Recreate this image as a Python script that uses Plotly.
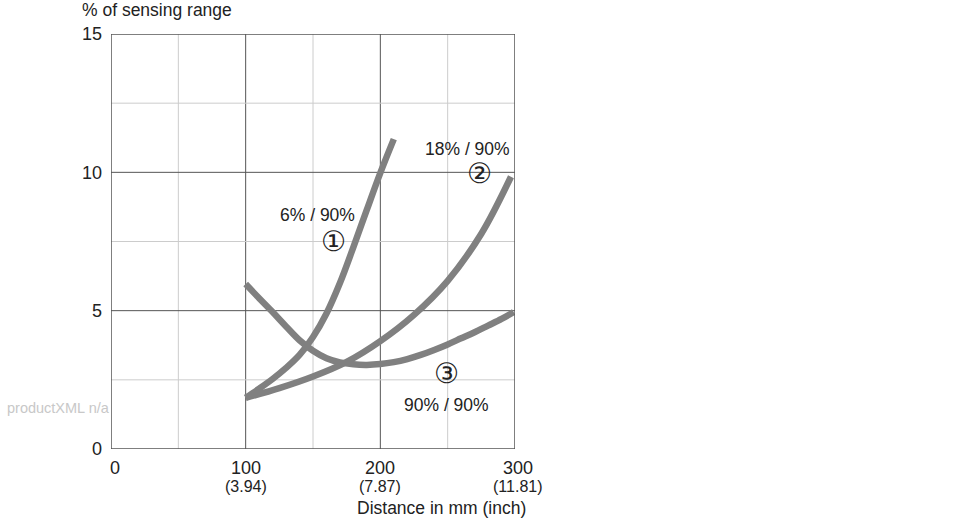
import plotly.graph_objects as go

# Curve data (distance mm, % of sensing range)
c1_x = [100, 110, 120, 130, 140, 150, 160, 170, 180, 190, 200, 210]
c1_y = [1.85, 2.18, 2.53, 2.93, 3.4, 4.05, 4.9, 6.0, 7.3, 8.65, 9.98, 11.2]
c2_x = [100, 125, 150, 175, 200, 225, 250, 275, 297]
c2_y = [1.85, 2.2, 2.62, 3.15, 3.9, 4.85, 6.08, 7.78, 9.84]
c3_x = [100, 110, 120, 130, 140, 150, 160, 170, 180, 190, 200, 210, 220, 230, 240, 250,
        260, 270, 280, 290, 299]
c3_y = [5.96, 5.45, 4.95, 4.43, 3.93, 3.55, 3.28, 3.13, 3.06, 3.04, 3.07, 3.14, 3.25,
        3.4, 3.58, 3.78, 4.0, 4.22, 4.46, 4.7, 4.95]

x_tickvals = [0, 100, 200, 300]
x_ticktext = ["0", "100", "200", "300"]
x_subtext = ["", "(3.94)", "(7.87)", "(11.81)"]
y_tickvals = [0, 5, 10, 15]
y_ticktext = ["0", "5", "10", "15"]

labels = [
    (153.0, 8.46, "6% / 90%"),
    (165.0, 7.49, "①"),
    (264.5, 10.83, "18% / 90%"),
    (274.0, 9.96, "②"),
    (249.2, 2.74, "③"),
    (249.5, 1.59, "90% / 90%"),
]

LINE = "#808080"
FONT = "Liberation Sans, Arial, sans-serif"
CIRC = "DejaVu Sans, Noto Sans CJK JP, sans-serif"
TXT = "#222222"

W, H = 970, 520
L, R, T, B = 111, 455, 34, 71
pw, ph = W - L - R, H - T - B


def py2paper(py):
    return (H - B - py) / ph


def px2paper(px):
    return (px - L) / pw


fig = go.Figure()
for xs, ys in [(c3_x, c3_y), (c2_x, c2_y), (c1_x, c1_y)]:
    fig.add_trace(go.Scatter(x=xs, y=ys, mode="lines",
                             line=dict(color=LINE, width=6.5, shape="spline", smoothing=1.0),
                             hoverinfo="skip", showlegend=False))

shapes = []
for xv, major in [(50, False), (100, True), (150, False), (200, True), (250, False)]:
    shapes.append(dict(type="line", xref="x", yref="y", x0=xv, x1=xv, y0=0, y1=15,
                       line=dict(color="#555555" if major else "#cccccc", width=1), layer="below"))
for yv, major in [(2.5, False), (5, True), (7.5, False), (10, True), (12.5, False)]:
    shapes.append(dict(type="line", xref="x", yref="y", x0=0, x1=300, y0=yv, y1=yv,
                       line=dict(color="#555555" if major else "#cccccc", width=1), layer="below"))
shapes.append(dict(type="rect", xref="x", yref="y", x0=0, x1=300, y0=0, y1=15,
                   line=dict(color="#555555", width=1.5), layer="above"))

annotations = []
for x, y, t in labels:
    circ = t in "①②③"
    annotations.append(dict(x=x, y=y, xref="x", yref="y", text=t, showarrow=False,
                            font=dict(family=CIRC if circ else FONT,
                                      size=28 if circ else 17.5, color=TXT)))

# x tick labels (value + inch value)
xshifts = [4, 0, 0, 3]
for v, t, s, xs in zip(x_tickvals, x_ticktext, x_subtext, xshifts):
    annotations.append(dict(x=v, y=py2paper(468), xref="x", yref="paper", text=t,
                            showarrow=False, xshift=xs, yanchor="middle",
                            font=dict(family=FONT, size=18, color=TXT)))
    if s:
        annotations.append(dict(x=v, y=py2paper(486), xref="x", yref="paper", text=s,
                                showarrow=False, xshift=xs, yanchor="middle",
                                font=dict(family=FONT, size=16, color=TXT)))

annotations.append(dict(x=px2paper(80), y=py2paper(10), xref="paper", yref="paper",
                        text="% of sensing range", showarrow=False,
                        xanchor="left", yanchor="middle",
                        font=dict(family=FONT, size=17.5, color=TXT)))
annotations.append(dict(x=px2paper(528), y=py2paper(508), xref="paper", yref="paper",
                        text="Distance in mm (inch)", showarrow=False,
                        xanchor="right", yanchor="middle",
                        font=dict(family=FONT, size=17.5, color=TXT)))
annotations.append(dict(x=px2paper(5), y=py2paper(408), xref="paper", yref="paper",
                        text="productXML n/a", showarrow=False,
                        xanchor="left", yanchor="middle",
                        font=dict(family=FONT, size=14.5, color="#c8c8c8")))

fig.update_layout(
    width=W, height=H,
    margin=dict(l=L, r=R, t=T, b=B, pad=0),
    paper_bgcolor="white", plot_bgcolor="white",
    font=dict(family=FONT, size=18, color=TXT),
    xaxis=dict(range=[0, 300], showticklabels=False,
               showgrid=False, zeroline=False, showline=False, ticks="", fixedrange=True),
    yaxis=dict(range=[0, 15], tickvals=y_tickvals, ticktext=y_ticktext,
               showgrid=False, zeroline=False, showline=False, ticks="",
               ticklabelstandoff=8, tickfont=dict(size=18), fixedrange=True),
    shapes=shapes, annotations=annotations,
)

fig.write_html("out.html")
